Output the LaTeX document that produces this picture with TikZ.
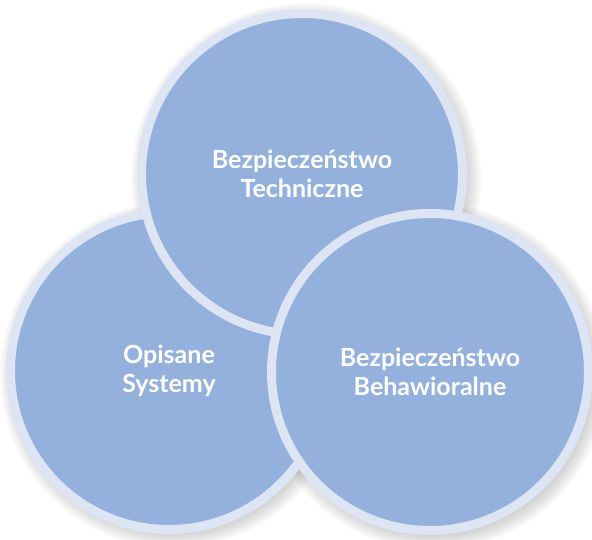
\documentclass[tikz,border=0pt]{standalone}
\usepackage{fontspec}
\setmainfont{Lato}
\definecolor{ringc}{RGB}{221,228,243}
\definecolor{fillc}{RGB}{148,177,221}
\begin{document}
\begin{tikzpicture}[x=1pt,y=-1pt,
  venn/.style={circle, draw=ringc, line width=9pt, fill=fillc, inner sep=0pt,
    minimum size=#1, text=white, align=center,
    font=\fontsize{25}{29}\selectfont\bfseries},
  shade/.style={fill=black, fill opacity=0.022, draw=none}]
\useasboundingbox (0,0) rectangle (592,540);
% soft shadows
\foreach \cx/\cy/\r in {169/370/163, 302/173/165, 430/372/163}{
  \foreach \i in {0,...,7}{
    \fill[shade] (\cx+4,\cy+5) circle ({\r-4+\i*2});
  }
}
\node[venn=317pt] (left) at (169,371) {Opisane\\Systemy};
\node[venn=321pt] (top) at (302,174) {Bezpieczeństwo\\Techniczne};
\node[venn=317pt] (right) at (430,372) {Bezpieczeństwo\\Behawioralne};
\end{tikzpicture}
\end{document}
